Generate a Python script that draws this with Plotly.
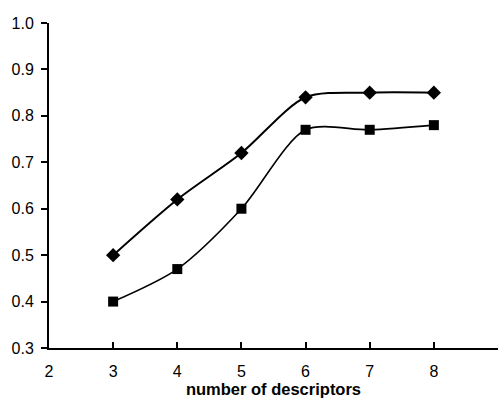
import plotly.graph_objects as go

descriptors = [3, 4, 5, 6, 7, 8]
series_diamond = [0.50, 0.62, 0.72, 0.84, 0.85, 0.85]
series_square = [0.40, 0.47, 0.60, 0.77, 0.77, 0.78]
x_ticks = [2, 3, 4, 5, 6, 7, 8, 9]
y_ticks = [0.3, 0.4, 0.5, 0.6, 0.7, 0.8, 0.9, 1.0]

fig = go.Figure()
fig.add_trace(go.Scatter(
    x=descriptors, y=series_diamond, mode="lines+markers",
    line=dict(color="black", width=2, shape="spline", smoothing=0.8),
    marker=dict(symbol="diamond", size=11, color="black"),
    showlegend=False))
fig.add_trace(go.Scatter(
    x=descriptors, y=series_square, mode="lines+markers",
    line=dict(color="black", width=1.6, shape="spline", smoothing=0.8),
    marker=dict(symbol="square", size=10, color="black"),
    showlegend=False))

fig.update_layout(
    width=502, height=407,
    margin=dict(l=49, r=4, t=23, b=59),
    paper_bgcolor="white", plot_bgcolor="white",
    font=dict(family="Liberation Sans, Arial, sans-serif", size=15, color="black"),
    xaxis=dict(range=[2, 9], tickvals=x_ticks, ticktext=[str(v) for v in x_ticks],
               showgrid=False, zeroline=False, showline=True, linecolor="black",
               linewidth=2, ticks="inside", ticklen=6, tickwidth=2, tickcolor="black",
               ticklabelstandoff=8, tickfont=dict(size=16),
               title=dict(text="<b>number of descriptors</b>", font=dict(size=16.5), standoff=3)),
    yaxis=dict(range=[0.3, 1.0], tickvals=y_ticks, ticktext=[f"{v:.1f}" for v in y_ticks],
               showgrid=False, zeroline=False, showline=True, linecolor="black",
               linewidth=2, ticks="outside", ticklen=6, tickwidth=2, tickcolor="black",
               ticklabelstandoff=4, tickfont=dict(size=16)),
)
fig.write_html("out.html")
